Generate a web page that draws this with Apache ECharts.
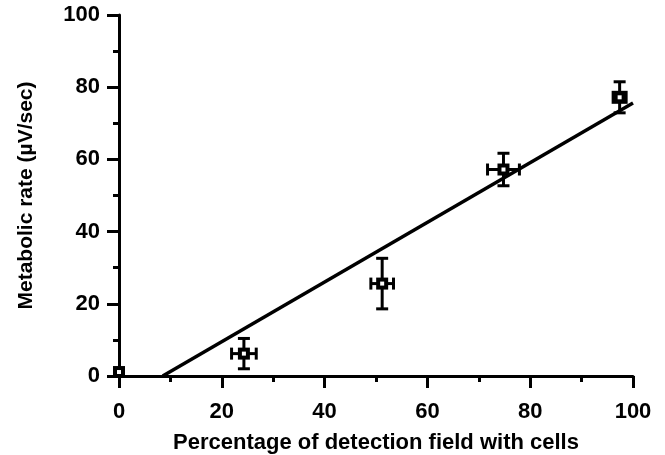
<!DOCTYPE html>
<html>
<head>
<meta charset="utf-8">
<script src="https://cdn.jsdelivr.net/npm/echarts@6/dist/echarts.min.js"></script>
<style>
html,body{margin:0;padding:0;background:#fff;}
#main{width:665px;height:455px;}
</style>
</head>
<body>
<div id="main"></div>
<script>
// Data
var xVals = [0, 24.3, 51.2, 74.8, 97.4];
var yVals = [1.1, 6.2, 25.6, 57.2, 77.2];
var xErr  = [0, 2.4, 2.2, 3.1, 0];
var yErr  = [0, 4.2, 7.0, 4.5, 4.3];
var fitX  = [8.5, 100];
var fitY  = [0, 75.6];
var xTicks = [0, 20, 40, 60, 80, 100];
var yTicks = [0, 20, 40, 60, 80, 100];

var font = 'Liberation Sans, Arial, Helvetica, sans-serif';
var points = xVals.map(function (x, i) { return [x, yVals[i], xErr[i], yErr[i]]; });
var fitLine = fitX.map(function (x, i) { return [x, fitY[i]]; });

var chart = echarts.init(document.getElementById('main'), null, {renderer: 'canvas'});
var axisCommon = {
  type: 'value',
  min: 0, max: 100, interval: 20,
  axisLine: {show: true, lineStyle: {color: '#000', width: 3}},
  axisTick: {show: true, inside: false, length: 12, lineStyle: {color: '#000', width: 3}},
  minorTick: {show: true, splitNumber: 2, length: 6, lineStyle: {color: '#000', width: 3}},
  splitLine: {show: false},
  minorSplitLine: {show: false}
};

chart.setOption({
  animation: false,
  backgroundColor: '#fff',
  grid: {left: 119, right: 32, top: 15, bottom: 79, containLabel: false, outerBoundsMode: 'none'},
  xAxis: Object.assign({}, axisCommon, {
    name: 'Percentage of detection field with cells',
    nameLocation: 'middle',
    nameGap: 56,
    nameTextStyle: {color: '#000', fontSize: 22, fontWeight: 'bold', fontFamily: font},
    axisLabel: {color: '#000', fontSize: 22, fontWeight: 'bold', fontFamily: font, margin: 25,
      formatter: function (v) { return xTicks.indexOf(v) >= 0 ? String(v) : ''; }}
  }),
  yAxis: Object.assign({}, axisCommon, {
    name: 'Metabolic rate (\u00B5V/sec)',
    nameLocation: 'middle',
    nameGap: 82,
    nameTextStyle: {color: '#000', fontSize: 21, fontWeight: 'bold', fontFamily: font},
    axisLabel: {color: '#000', fontSize: 22, fontWeight: 'bold', fontFamily: font, margin: 19,
      formatter: function (v) { return yTicks.indexOf(v) >= 0 ? String(v) : ''; }}
  }),
  series: [
    {
      type: 'line',
      data: fitLine,
      symbol: 'none',
      lineStyle: {color: '#000', width: 3.5},
      z: 2
    },
    {
      type: 'custom',
      data: points,
      z: 3,
      renderItem: function (params, api) {
        var x = api.value(0), y = api.value(1), ex = api.value(2), ey = api.value(3);
        var c = api.coord([x, y]);
        var children = [];
        var st = {stroke: '#000', lineWidth: 3};
        if (ey > 0) {
          var top = api.coord([x, y + ey]), bot = api.coord([x, y - ey]);
          children.push({type: 'line', shape: {x1: c[0], y1: top[1], x2: c[0], y2: bot[1]}, style: st});
          children.push({type: 'line', shape: {x1: c[0] - 6, y1: top[1], x2: c[0] + 6, y2: top[1]}, style: st});
          children.push({type: 'line', shape: {x1: c[0] - 6, y1: bot[1], x2: c[0] + 6, y2: bot[1]}, style: st});
        }
        if (ex > 0) {
          var l = api.coord([x - ex, y]), r = api.coord([x + ex, y]);
          children.push({type: 'line', shape: {x1: l[0], y1: c[1], x2: r[0], y2: c[1]}, style: st});
          children.push({type: 'line', shape: {x1: l[0], y1: c[1] - 6, x2: l[0], y2: c[1] + 6}, style: st});
          children.push({type: 'line', shape: {x1: r[0], y1: c[1] - 6, x2: r[0], y2: c[1] + 6}, style: st});
        }
        var big = params.dataIndex === xVals.length - 1;
        var w = big ? 16 : 12, h = big ? 13 : 12;
        children.push({type: 'rect', shape: {x: c[0] - w / 2, y: c[1] - h / 2, width: w, height: h}, style: {fill: '#000'}});
        children.push({type: 'rect', shape: {x: c[0] - 2, y: c[1] - 2, width: 4, height: 4}, style: {fill: '#fff'}});
        return {type: 'group', children: children};
      }
    }
  ]
});
</script>
</body>
</html>
